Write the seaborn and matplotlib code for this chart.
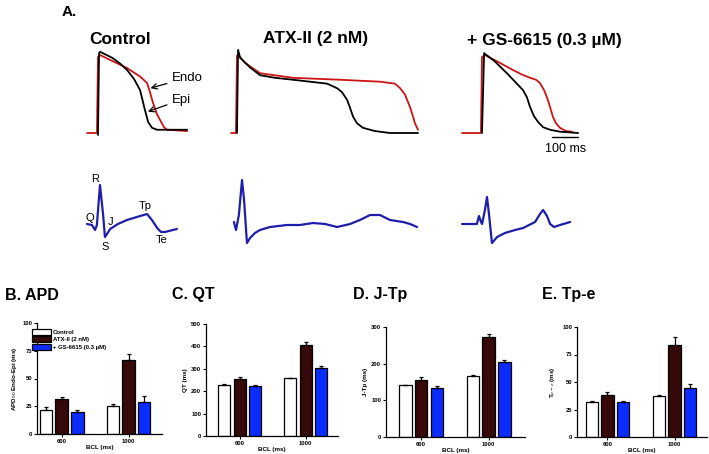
import numpy as np
import pandas as pd
import seaborn as sns
import matplotlib.pyplot as plt

# ---- action potential traces (time ms from upstroke, voltage mV) ----
ctrl_epi_t = [0, 4, 8, 54, 85, 112, 139, 162, 181, 193, 208, 227, 343]
ctrl_epi_v = [-88, 38, 40, 31, 22, 12, -2, -19, -50, -68, -77, -80, -80]
ctrl_endo_t = [-42, -4, 0, 8, 65, 112, 162, 189, 200, 212, 227, 239, 254, 266, 343]
ctrl_endo_v = [-85, -85, 32, 35, 24, 15, 2, -8, -22, -39, -56, -65, -76, -80, -82]

atx_epi_t = [0, 4, 12, 50, 89, 146, 216, 281, 347, 385, 404, 424, 435, 447, 462, 485, 531, 589, 697]
atx_epi_v = [-85, 43, 31, 16, 4, 0, -3, -6, -9, -16, -22, -34, -46, -60, -70, -77, -82, -85, -85]
atx_endo_t = [-23, -4, 0, 4, 31, 89, 216, 397, 551, 608, 628, 647, 666, 678, 685, 697]
atx_endo_v = [-85, -85, 34, 35, 23, 7, 0, -3, -6, -9, -16, -26, -45, -60, -70, -80]

gs_epi_t = [0, 8, 50, 96, 127, 158, 173, 185, 200, 216, 235, 262, 300, 370]
gs_epi_v = [-85, 38, 25, 7, -6, -19, -30, -45, -59, -68, -76, -80, -83, -85]
gs_endo_t = [-77, -4, 0, 12, 69, 119, 154, 185, 208, 223, 239, 250, 262, 273, 285, 300, 323, 347]
gs_endo_v = [-85, -85, 32, 35, 23, 12, 5, 0, -3, -8, -19, -30, -45, -60, -70, -77, -82, -83]

# ---- ECG traces (time ms from R peak, mV) ----
ecg_ctrl_t = [-50, -31, -19, -12, 0, 12, 19, 27, 39, 69, 104, 142, 181, 200, 220, 235, 250, 296]
ecg_ctrl_v = [0, -0.02, -0.12, -0.02, 0.78, 0.18, -0.26, -0.2, -0.1, 0, 0.08, 0.14, 0.2, 0.08, -0.08, -0.16, -0.16, -0.1]
ecg_atx_t = [-31, -23, -12, 0, 8, 19, 31, 50, 69, 108, 173, 223, 273, 320, 366, 416, 454, 493, 531, 570, 620, 647, 674]
ecg_atx_v = [0.04, -0.12, 0.18, 0.88, 0.48, -0.38, -0.28, -0.18, -0.12, -0.06, -0.02, -0.02, 0.02, 0,
             -0.06, 0, 0.08, 0.18, 0.18, 0.08, 0.04, 0, -0.06]
ecg_gs_t = [-96, -39, -31, -23, -19, -8, 0, 8, 19, 39, 69, 108, 139, 185, 204, 216, 231, 243, 258, 281, 320]
ecg_gs_v = [0, 0, 0.16, 0.04, 0, 0.28, 0.54, 0.18, -0.38, -0.26, -0.18, -0.12, -0.08, 0.04, 0.2, 0.28,
            0.16, 0, -0.06, -0.02, 0.04]

# ---- bar data ----
bcl = ["600", "1000"]
treatments = ["Control", "ATX-II (2 nM)", "+ GS-6615 (0.3 µM)"]
apd_ctrl, apd_atx, apd_gs = [22, 25], [31.5, 67], [20, 29]
apd_ctrl_err, apd_atx_err, apd_gs_err = [2.5, 1.8], [2, 5], [1.8, 5]
qt_ctrl, qt_atx, qt_gs = [228, 257], [253, 405], [222, 305]
qt_ctrl_err, qt_atx_err, qt_gs_err = [3, 4], [9, 15], [4, 7]
jtp_ctrl, jtp_atx, jtp_gs = [141, 166], [155, 273], [135, 205]
jtp_ctrl_err, jtp_atx_err, jtp_gs_err = [2, 3], [8, 9], [3, 4]
tpe_ctrl, tpe_atx, tpe_gs = [31.5, 37], [38, 84], [32, 45]
tpe_ctrl_err, tpe_atx_err, tpe_gs_err = [1, 1], [3, 7], [0.5, 3]

W, H = 709, 454
MS_PX = 3.85
MV_PX = 1.54
ECG_PX = 0.02
RED = "#cc1414"
ECG_BLUE = "#1e1eaa"
BAR_COLORS = ["#ffffff", "#360808", "#0a2cff"]
FONT = "Liberation Sans"

sns.set_theme(style="white")
plt.rcParams["font.family"] = [FONT, "DejaVu Sans"]
plt.rcParams["text.color"] = "black"
plt.rcParams["axes.labelcolor"] = "black"
plt.rcParams["xtick.color"] = "black"
plt.rcParams["ytick.color"] = "black"

fig = plt.figure(figsize=(W / 100, H / 100), dpi=100)


def px_axes(left, top, right, bottom):
    return fig.add_axes([left / W, 1 - bottom / H, (right - left) / W, (bottom - top) / H])


def trace_axes(box, x0, y0, v0, vscale):
    left, top, right, bottom = box
    ax = px_axes(*box)
    ax.set_xlim((left - x0) * MS_PX, (right - x0) * MS_PX)
    ax.set_ylim(v0 - (bottom - y0) * vscale, v0 + (y0 - top) * vscale)
    ax.axis("off")
    return ax


def draw(ax, t, v, color, lw):
    sns.lineplot(x=t, y=v, ax=ax, color=color, lw=lw, sort=False, estimator=None)


def ftext(x, y, s, **kw):
    fig.text(x / W, 1 - y / H, s, **kw)


# panel A
ftext(62, 12, "A.", fontsize=11, fontweight="bold", va="center")
ftext(89, 40, "Control", fontsize=12.5, fontweight="bold", va="center")
ftext(316, 38, "ATX-II (2 nM)", fontsize=12.5, fontweight="bold", va="center", ha="center")
ftext(544, 40, "+ GS-6615 (0.3 µM)", fontsize=12.5, fontweight="bold", va="center", ha="center")

ap_ctrl = trace_axes((60, 45, 200, 145), 98, 133, -85, MV_PX)
draw(ap_ctrl, ctrl_endo_t, ctrl_endo_v, RED, 1.3)
draw(ap_ctrl, ctrl_epi_t, ctrl_epi_v, "black", 1.3)
ap_ctrl.annotate("Endo", xy=(202, -16), xytext=(283, 0), fontsize=9.5, va="center",
                 arrowprops=dict(arrowstyle="->", color="black", lw=0.9, shrinkA=1, shrinkB=0))
ap_ctrl.annotate("Epi", xy=(192, -52), xytext=(283, -34), fontsize=9.5, va="center",
                 arrowprops=dict(arrowstyle="->", color="black", lw=0.9, shrinkA=1, shrinkB=0))

ap_atx = trace_axes((210, 45, 440, 145), 237, 133, -85, MV_PX)
draw(ap_atx, atx_endo_t, atx_endo_v, RED, 1.3)
draw(ap_atx, atx_epi_t, atx_epi_v, "black", 1.3)

ap_gs = trace_axes((450, 45, 600, 145), 482, 133, -85, MV_PX)
draw(ap_gs, gs_endo_t, gs_endo_v, RED, 1.3)
draw(ap_gs, gs_epi_t, gs_epi_v, "black", 1.3)
ap_gs.plot([270, 370], [-91, -91], color="black", lw=1)
ap_gs.text(320, -100, "100 ms", fontsize=9, ha="center", va="top")

ecg_c = trace_axes((60, 170, 200, 255), 100, 224, 0, ECG_PX)
draw(ecg_c, ecg_ctrl_t, ecg_ctrl_v, ECG_BLUE, 1.6)
for lab, tx, vy in [("R", -19, 0.9), ("Q", -40, 0.12), ("S", 19, -0.45), ("J", 40, 0.05),
                    ("Tp", 176, 0.36), ("Te", 239, -0.32)]:
    ecg_c.text(tx, vy, lab, fontsize=8, ha="center", va="center")

ecg_a = trace_axes((210, 170, 440, 255), 242, 224, 0, ECG_PX)
draw(ecg_a, ecg_atx_t, ecg_atx_v, ECG_BLUE, 1.6)
ecg_g = trace_axes((450, 170, 600, 255), 487, 224, 0, ECG_PX)
draw(ecg_g, ecg_gs_t, ecg_gs_v, ECG_BLUE, 1.6)


# bar panels
def bar_panel(box, xlim, ymax, step, title, title_x, ylabel, ctrl, atx, gs, errs, legend=False):
    ax = px_axes(*box)
    df = pd.DataFrame({
        "BCL": bcl * 3,
        "group": np.repeat(treatments, 2),
        "value": ctrl + atx + gs,
    })
    sns.barplot(data=df, x="BCL", y="value", hue="group", hue_order=treatments,
                palette=BAR_COLORS, saturation=1, width=0.7, gap=0.2, edgecolor="black",
                linewidth=0.9, errorbar=None, ax=ax, legend=legend)
    err = errs[0] + errs[1] + errs[2]
    vals = ctrl + atx + gs
    for patch, e, v in zip(ax.patches[:6], err, vals):
        xc = patch.get_x() + patch.get_width() / 2
        ax.errorbar(xc, v, yerr=[[0], [e]], color="black", lw=0.9, capsize=1.5, capthick=0.9)
    ax.set_xlim(*xlim)
    ax.set_ylim(0, ymax)
    ax.set_yticks(np.arange(0, ymax + 1, step))
    ax.set_xlabel("BCL (ms)", fontsize=4.5, fontweight="bold", labelpad=1)
    ax.set_ylabel(ylabel, fontsize=4.5, fontweight="bold", labelpad=2)
    ax.tick_params(axis="both", labelsize=4.2, length=2.5, width=0.8, pad=1, direction="out",
                   bottom=True, left=True)
    for lb in ax.get_xticklabels() + ax.get_yticklabels():
        lb.set_fontweight("bold")
    sns.despine(ax=ax)
    for s in ["left", "bottom"]:
        ax.spines[s].set_color("black")
        ax.spines[s].set_linewidth(0.9)
    ax.set_facecolor("white")
    if legend:
        ax.legend(loc="upper left", bbox_to_anchor=(-0.06, 0.97), frameon=False,
                  prop=dict(size=4.3, weight="bold"), handlelength=3.2, handleheight=1.2,
                  handletextpad=0.3, labelspacing=0.25, borderaxespad=0)
    ftext(title_x, 295, title, fontsize=11.5, fontweight="bold", va="center")
    return ax


bar_panel((37, 323, 162, 434), (-0.37, 1.5), 100, 25, "B. APD", 5,
          "APD$_{90}$ Endo-Epi (ms)", apd_ctrl, apd_atx, apd_gs,
          [apd_ctrl_err, apd_atx_err, apd_gs_err], legend=True)
bar_panel((206, 324, 338, 436), (-0.51, 1.49), 500, 100, "C. QT", 172,
          "QT (ms)", qt_ctrl, qt_atx, qt_gs, [qt_ctrl_err, qt_atx_err, qt_gs_err])
bar_panel((386, 327, 525, 437), (-0.52, 1.54), 300, 100, "D. J-Tp", 353,
          "J-Tp (ms)", jtp_ctrl, jtp_atx, jtp_gs, [jtp_ctrl_err, jtp_atx_err, jtp_gs_err])
bar_panel((577, 327, 707, 437), (-0.455, 1.485), 100, 25, "E. Tp-e", 542,
          "T$_{p-e}$ (ms)", tpe_ctrl, tpe_atx, tpe_gs, [tpe_ctrl_err, tpe_atx_err, tpe_gs_err])

fig.savefig("out.png", dpi=100, facecolor="white")
